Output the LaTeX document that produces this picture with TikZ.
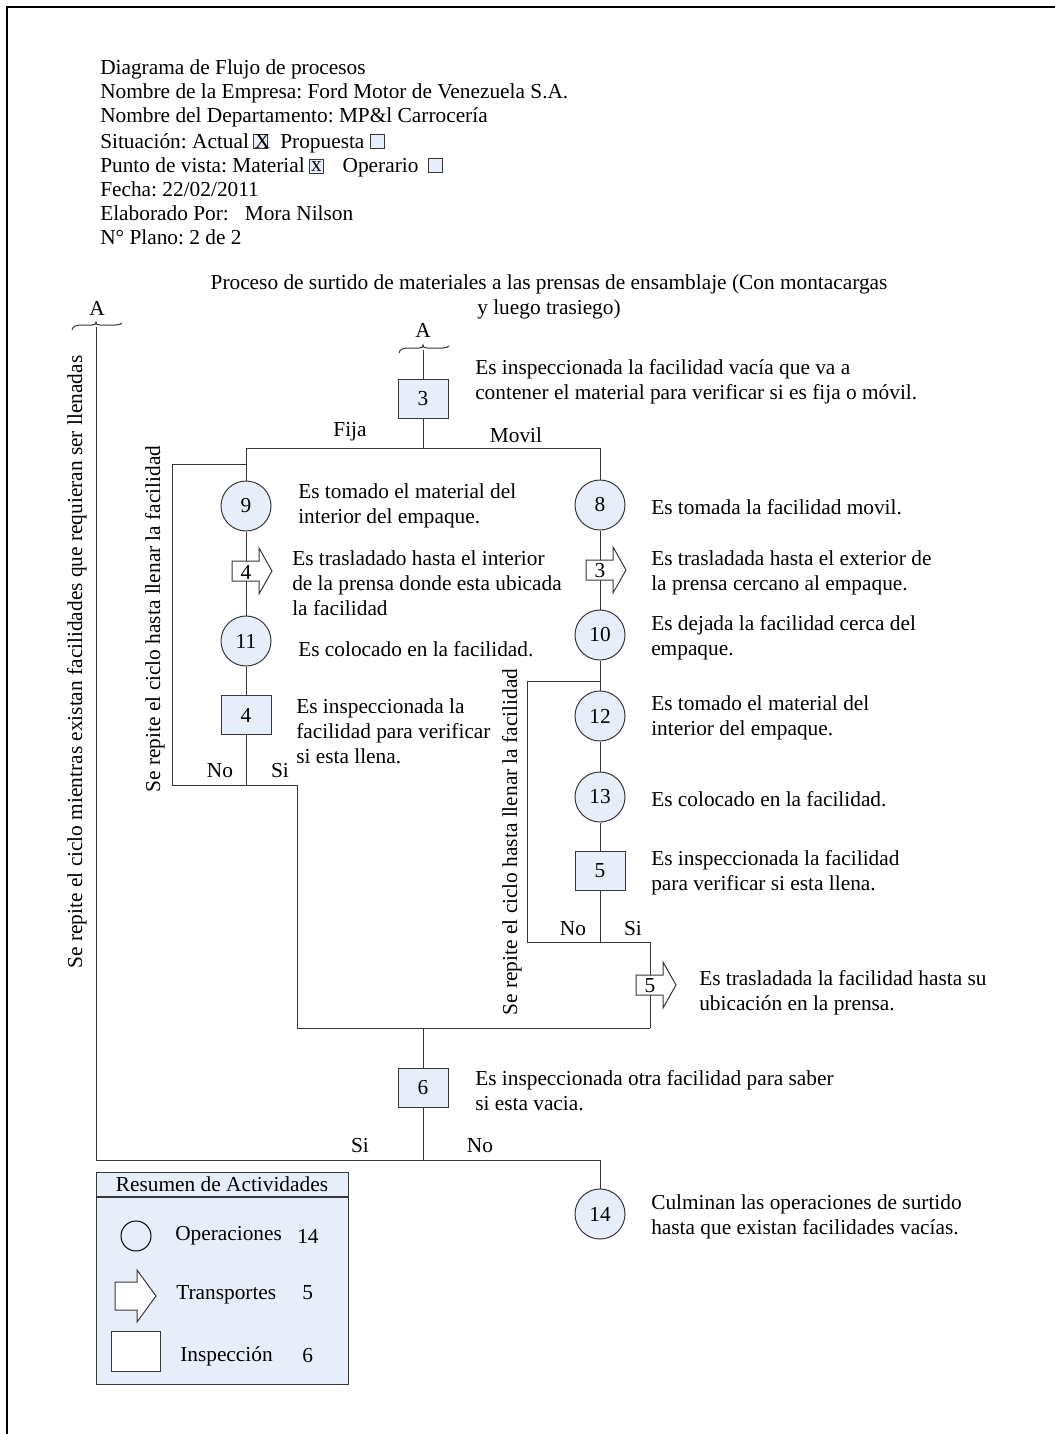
\documentclass[tikz,border=0pt]{standalone}
\usepackage{fontspec}
\setmainfont{Liberation Serif}
\usetikzlibrary{positioning,backgrounds}
\definecolor{boxfill}{RGB}{232,238,249}
\definecolor{linecol}{RGB}{55,55,55}
\frenchspacing

\begin{document}
\begin{tikzpicture}[x=0.75pt,y=-0.75pt,
  every node/.style={font=\fontsize{16}{18.75}\selectfont, inner sep=0pt},
  op/.style={circle, draw=linecol, fill=boxfill, line width=0.75pt, minimum size=37.5pt},
  insp/.style={rectangle, draw=linecol, fill=boxfill, line width=0.75pt, minimum width=37.5pt, minimum height=29pt},
  lbl/.style={anchor=west, align=left},
  conn/.style={draw=linecol, line width=0.75pt},
  chk/.style={rectangle, draw=linecol, fill=boxfill, line width=0.6pt, minimum size=10.5pt},
  pics/transp/.style={code={
     \draw[conn, fill=white] (-14,-10) -- (13,-10) -- (13,-23) -- (26,0) -- (13,23) -- (13,10) -- (-14,10) -- cycle;
     \node (-n) at (0,1) {#1};}},
  pics/conbrace/.style={code={
     \draw[conn] (-24,5) .. controls (-23,1) and (-20,0) .. (-14,0) -- (-4,0)
        .. controls (-1,0) and (0,-1) .. (0,-3) .. controls (0,-1) and (1,0) .. (4,0)
        -- (20,0) .. controls (23,0) and (25,-1) .. (26,-2);}},
]
\useasboundingbox (0,0) rectangle (1055,1434);

% page frame
\draw[line width=1.5pt] (7,1434) -- (7,7) -- (1055,7);

% header block
\node[lbl] (h1) at (100,69) {Diagrama de Flujo de procesos};
\node[lbl] (h2) at (100,93) {Nombre de la Empresa: Ford Motor de Venezuela S.A.};
\node[lbl] (h3) at (100,117) {Nombre del Departamento: MP\&l Carrocería};
\node[lbl] (h4) at (100,141) {Situación: Actual};
\node[chk, anchor=south west, xshift=3pt, yshift=-0.5pt] (k1) at (h4.base east) {};
\node[anchor=base west, xshift=0.8pt] (kx) at (k1.west |- h4.base) {X};
\node[anchor=base west, xshift=9pt] (h4b) at (k1.east |- h4.base) {Propuesta};
\node[chk, anchor=south west, xshift=4pt, yshift=-0.5pt] (k2) at (h4b.base east) {};
\node[lbl] (h5) at (100,165) {Punto de vista: Material};
\node[chk, anchor=south west, xshift=3pt, yshift=-1pt] (k3) at (h5.base east) {x};
\node[anchor=base west, xshift=14pt] (h5b) at (k3.east |- h5.base) {Operario};
\node[chk, anchor=south west, xshift=7pt, yshift=-0.5pt] (k4) at (h5b.base east) {};
\node[lbl] (h6) at (100,189) {Fecha: 22/02/2011};
\node[lbl] (h7) at (100,213) {Elaborado Por:\hspace{12pt}Mora Nilson};
\node[lbl] (h8) at (100,237) {N° Plano: 2 de 2};

\node[align=center] (title) at (549,297) {Proceso de surtido de materiales a las prensas de ensamblaje (Con montacargas\\y luego trasiego)};

% off-page connectors
\node (Aleft) at (97,308) {A};
\pic at (96,325) {conbrace};
\coordinate (Alft) at (96,327);
\node (Atop) at (423,330) {A};
\pic at (423,348) {conbrace};
\coordinate (Atp) at (423,350);

% first inspection and split
\node[insp] (b3) at (423,399) {3};
\node[lbl] (d3) at (475,382) {Es inspeccionada la facilidad vacía que va a\\contener el material para verificar si es fija o móvil.};
\coordinate (j1) at (423,448);
\coordinate (j1l) at (246,448);
\coordinate (j1r) at (600,448);
\node (fija) at (350,432) {Fija};
\node (movil) at (516,435) {Movil};

% fixed facility branch
\node[op] (c9) at (246,506) {9};
\node[lbl] (d9) at (298,506) {Es tomado el material del\\interior del empaque.};
\node[lbl] (dt4) at (292,583) {Es trasladado hasta el interior\\de la prensa donde esta ubicada\\la facilidad};
\node[op] (c11) at (246,641) {11};
\node[lbl] (d11) at (298,649) {Es colocado en la facilidad.};
\node[insp] (b4) at (246,715) {4};
\node[lbl] (db4) at (296,731) {Es inspeccionada la\\facilidad para verificar\\si esta llena.};
\coordinate (j2) at (246,785);
\coordinate (j2r) at (297,785);
\coordinate (lp1a) at (172,785);
\coordinate (lp1b) at (172,464);
\coordinate (lp1c) at (246,464);
\node (no1) at (220,771) {No};
\node (si1) at (280,771) {Si};
\node[rotate=90] (rep1) at (155,619) {Se repite el ciclo hasta llenar la facilidad};

% mobile facility branch
\node[op] (c8) at (600,505) {8};
\node[lbl] (d8) at (651,507) {Es tomada la facilidad movil.};
\node[lbl] (dt3) at (651,573) {Es trasladada hasta el exterior de\\la prensa cercano al empaque.};
\node[op] (c10) at (600,635) {10};
\node[lbl] (d10) at (651,638) {Es dejada la facilidad cerca del\\empaque.};
\coordinate (j3) at (600,681);
\node[op] (c12) at (600,716) {12};
\node[lbl] (d12) at (651,718) {Es tomado el material del\\interior del empaque.};
\node[op] (c13) at (600,797) {13};
\node[lbl] (d13) at (651,799) {Es colocado en la facilidad.};
\node[insp] (b5) at (600,871) {5};
\node[lbl] (db5) at (651,873) {Es inspeccionada la facilidad\\para verificar si esta llena.};
\coordinate (j4) at (600,942);
\coordinate (lp2a) at (527,942);
\coordinate (lp2b) at (527,681);
\coordinate (j4r) at (650,942);
\node (no2) at (573,929) {No};
\node (si2) at (633,929) {Si};
\node[rotate=90] (rep2) at (512,842) {Se repite el ciclo hasta llenar la facilidad};
\node[lbl] (dt5) at (699,993) {Es trasladada la facilidad hasta su\\ubicación en la prensa.};

% merge and final inspection
\coordinate (j5l) at (297,1028);
\coordinate (j5) at (423,1028);
\coordinate (j5r) at (650,1028);
\node[insp] (b6) at (423,1088) {6};
\node[lbl] (db6) at (475,1091) {Es inspeccionada otra facilidad para saber\\si esta vacia.};
\coordinate (j6) at (423,1160);
\coordinate (j6l) at (96,1160);
\coordinate (j6r) at (600,1160);
\node (si3) at (360,1146) {Si};
\node (no3) at (480,1146) {No};
\node[op] (c14) at (600,1214) {14};
\node[lbl] (d14) at (651,1217) {Culminan las operaciones de surtido\\hasta que existan facilidades vacías.};
\node[rotate=90] (rep3) at (77,662) {Se repite el ciclo mientras existan facilidades que requieran ser llenadas};

% connectors
\begin{scope}[on background layer]
\draw[conn] (Atp) -- (b3) -- (j1);
\draw[conn] (j1l) -- (j1r);
\draw[conn] (j1l) -- (c9) -- (c11) -- (b4) -- (j2);
\draw[conn] (j2) -- (lp1a) -- (lp1b) -- (lp1c);
\draw[conn] (j2) -- (j2r) -- (j5l) -- (j5r);
\draw[conn] (j1r) -- (c8) -- (c10) -- (c12) -- (c13) -- (b5) -- (j4);
\draw[conn] (lp2a) -- (lp2b) -- (j3);
\draw[conn] (lp2a) -- (j4r) -- (j5r);
\draw[conn] (j5) -- (b6) -- (j6);
\draw[conn] (Alft) -- (j6l) -- (j6r) -- (c14);
\end{scope}

% transport symbols on the flow lines
\pic (t4) at (246,571) {transp=4};
\pic (t3) at (600,570) {transp=3};
\pic (t5) at (650,985) {transp=5};

% summary of activities
\draw[conn, fill=boxfill] (96,1197) rectangle (348,1384);
\node[draw=linecol, fill=boxfill, line width=0.75pt, minimum width=189pt, minimum height=18.75pt] (sumh) at (222,1184.5) {Resumen de Actividades};
\draw[draw=linecol, line width=1.2pt] (96,1197) -- (348,1197);
\node[circle, draw=black, line width=0.75pt, minimum size=22.5pt] (sc) at (136,1236) {};
\node[lbl] (sop) at (175,1236) {Operaciones};
\node[lbl] (sopn) at (297,1236) {14};
\draw[conn, fill=white] (115,1282) -- (137,1282) -- (137,1270) -- (156,1296) -- (137,1322) -- (137,1310) -- (115,1310) -- cycle;
\node[lbl] (str) at (176,1295) {Transportes};
\node[lbl] (strn) at (302,1293) {5};
\node[draw=linecol, fill=white, line width=0.75pt, minimum width=36.75pt, minimum height=30pt] (ssq) at (135.5,1351) {};
\node[lbl] (sin) at (180,1356) {Inspección};
\node[lbl] (sinn) at (302,1356) {6};
\end{tikzpicture}
\end{document}
